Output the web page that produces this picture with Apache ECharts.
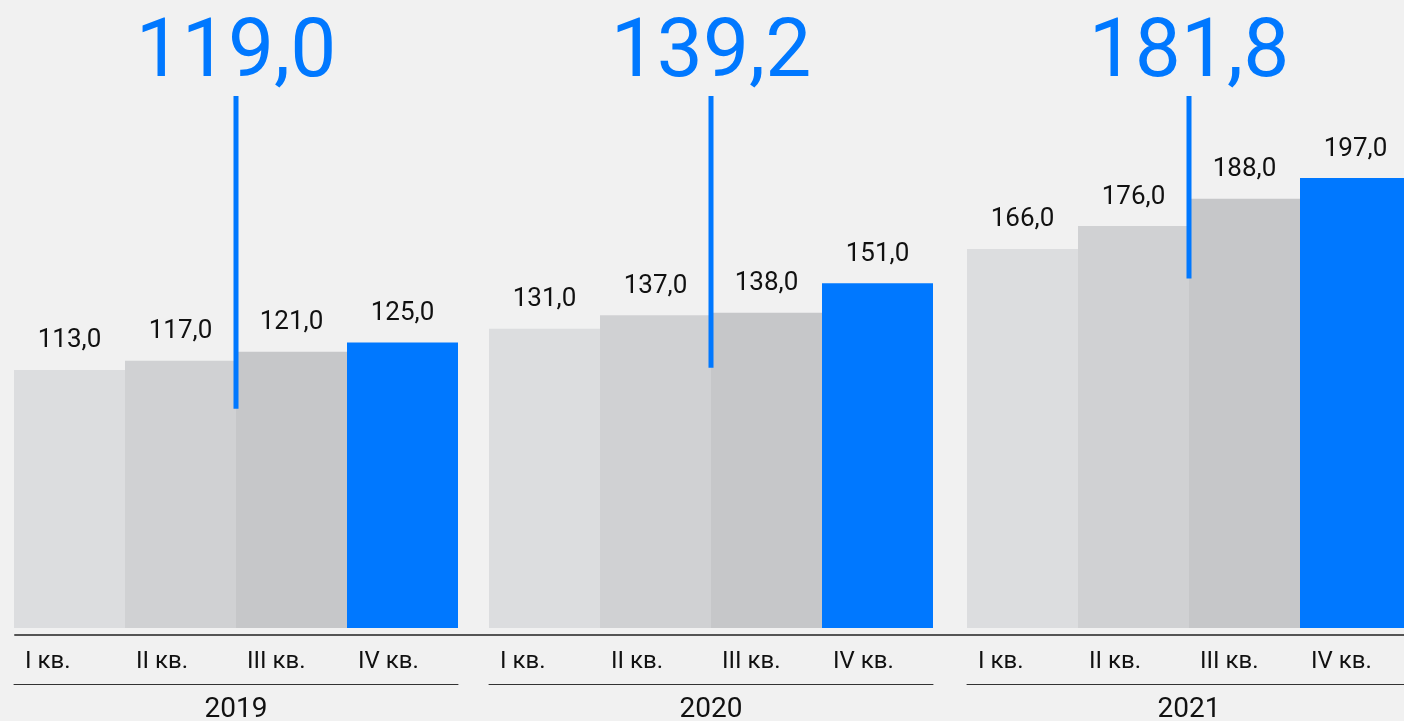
<!DOCTYPE html>
<html>
<head>
<meta charset="utf-8">
<script src="https://cdn.jsdelivr.net/npm/echarts@6/dist/echarts.min.js"></script>
<style>
  html, body { margin: 0; padding: 0; background: #f1f1f1; }
  #chart { width: 1404px; height: 721px; }
</style>
</head>
<body>
<div id="chart"></div>
<script>
// данные
const years = ['2019', '2020', '2021']
const quarters = ['I кв.', 'II кв.', 'III кв.', 'IV кв.']
const values2019 = [113, 117, 121, 125]
const values2020 = [131, 137, 138, 151]
const values2021 = [166, 176, 188, 197]
const annual = [119.0, 139.2, 181.8]
// верх и низ синей вертикальной линии (в единицах оси Y)
const lineTop = [233, 233, 233]
const lineBottom = [96, 114, 153]

const groupValues = [values2019, values2020, values2021]
const barColors = ['#dcdddf', '#d0d1d3', '#c6c7c9', '#0078ff']
const blue = '#0078ff'
const font = 'Roboto'
const fmt = v => v.toFixed(1).replace('.', ',')

const groupLeft = [14, 489, 967]
const groupWidth = 444

let grid = []
let xAxis = []
let yAxis = []
let series = []

years.forEach((year, i) => {
  grid.push({ left: groupLeft[i], width: groupWidth, top: 0, height: 628, outerBoundsMode: 'none' })
  yAxis.push({ gridIndex: i, type: 'value', min: 0, max: 275, show: false })
  // ось для столбиков
  xAxis.push({
    gridIndex: i, type: 'category', data: quarters, show: false
  })
  // ось для подписей кварталов
  xAxis.push({
    gridIndex: i, type: 'value', min: 0, max: 4, interval: 1, position: 'bottom',
    axisLine: { show: false }, axisTick: { show: false }, splitLine: { show: false },
    axisLabel: {
      show: true, margin: 22, align: 'left', padding: [0, 0, 0, 11],
      fontSize: 24, color: '#111', fontFamily: font,
      formatter: v => quarters[v] || ''
    }
  })
  // линия под кварталами и год
  xAxis.push({
    gridIndex: i, type: 'value', min: 0, max: 1, position: 'bottom', offset: 56,
    axisLine: { show: true, lineStyle: { color: '#333', width: 1 } },
    axisTick: { show: false }, axisLabel: { show: false }, splitLine: { show: false },
    name: year, nameLocation: 'middle', nameGap: 12,
    nameTextStyle: { fontSize: 28, color: '#111', fontFamily: font }
  })

  series.push({
    type: 'bar',
    xAxisIndex: i * 3,
    yAxisIndex: i,
    barCategoryGap: 0,
    data: groupValues[i],
    itemStyle: { color: p => barColors[p.dataIndex] },
    label: {
      show: true, position: 'top', distance: 16,
      fontSize: 26, color: '#111', fontFamily: font,
      formatter: p => fmt(p.value)
    },
    silent: true
  })

  series.push({
    type: 'custom',
    xAxisIndex: i * 3 + 1,
    yAxisIndex: i,
    data: [[2, lineTop[i], lineBottom[i], annual[i]]],
    encode: { x: 0, y: [1, 2] },
    z: 5,
    renderItem: (params, api) => {
      let p1 = api.coord([api.value(0), api.value(1)])
      let p2 = api.coord([api.value(0), api.value(2)])
      return {
        type: 'group',
        children: [
          {
            type: 'line',
            shape: { x1: p1[0], y1: p1[1], x2: p2[0], y2: p2[1] },
            style: { stroke: blue, lineWidth: 5 }
          },
          {
            type: 'text',
            style: {
              text: fmt(api.value(3)), x: p1[0], y: p1[1] + 1,
              align: 'center', verticalAlign: 'bottom',
              fontSize: 82, fill: blue, fontFamily: font
            }
          }
        ]
      }
    },
    silent: true
  })
})

// общая линия под столбиками
grid.push({ left: 15, right: 0, top: 0, height: 635, outerBoundsMode: 'none' })
yAxis.push({ gridIndex: 3, type: 'value', min: 0, max: 1, show: false })
xAxis.push({
  gridIndex: 3, type: 'value', min: 0, max: 1, position: 'bottom',
  axisLine: { show: true, lineStyle: { color: '#555', width: 2 } },
  axisTick: { show: false }, axisLabel: { show: false }, splitLine: { show: false }
})

let myChart = echarts.init(document.getElementById('chart'))
myChart.setOption({
  backgroundColor: '#f1f1f1',
  animation: false,
  grid: grid,
  xAxis: xAxis,
  yAxis: yAxis,
  series: series
})
</script>
</body>
</html>
